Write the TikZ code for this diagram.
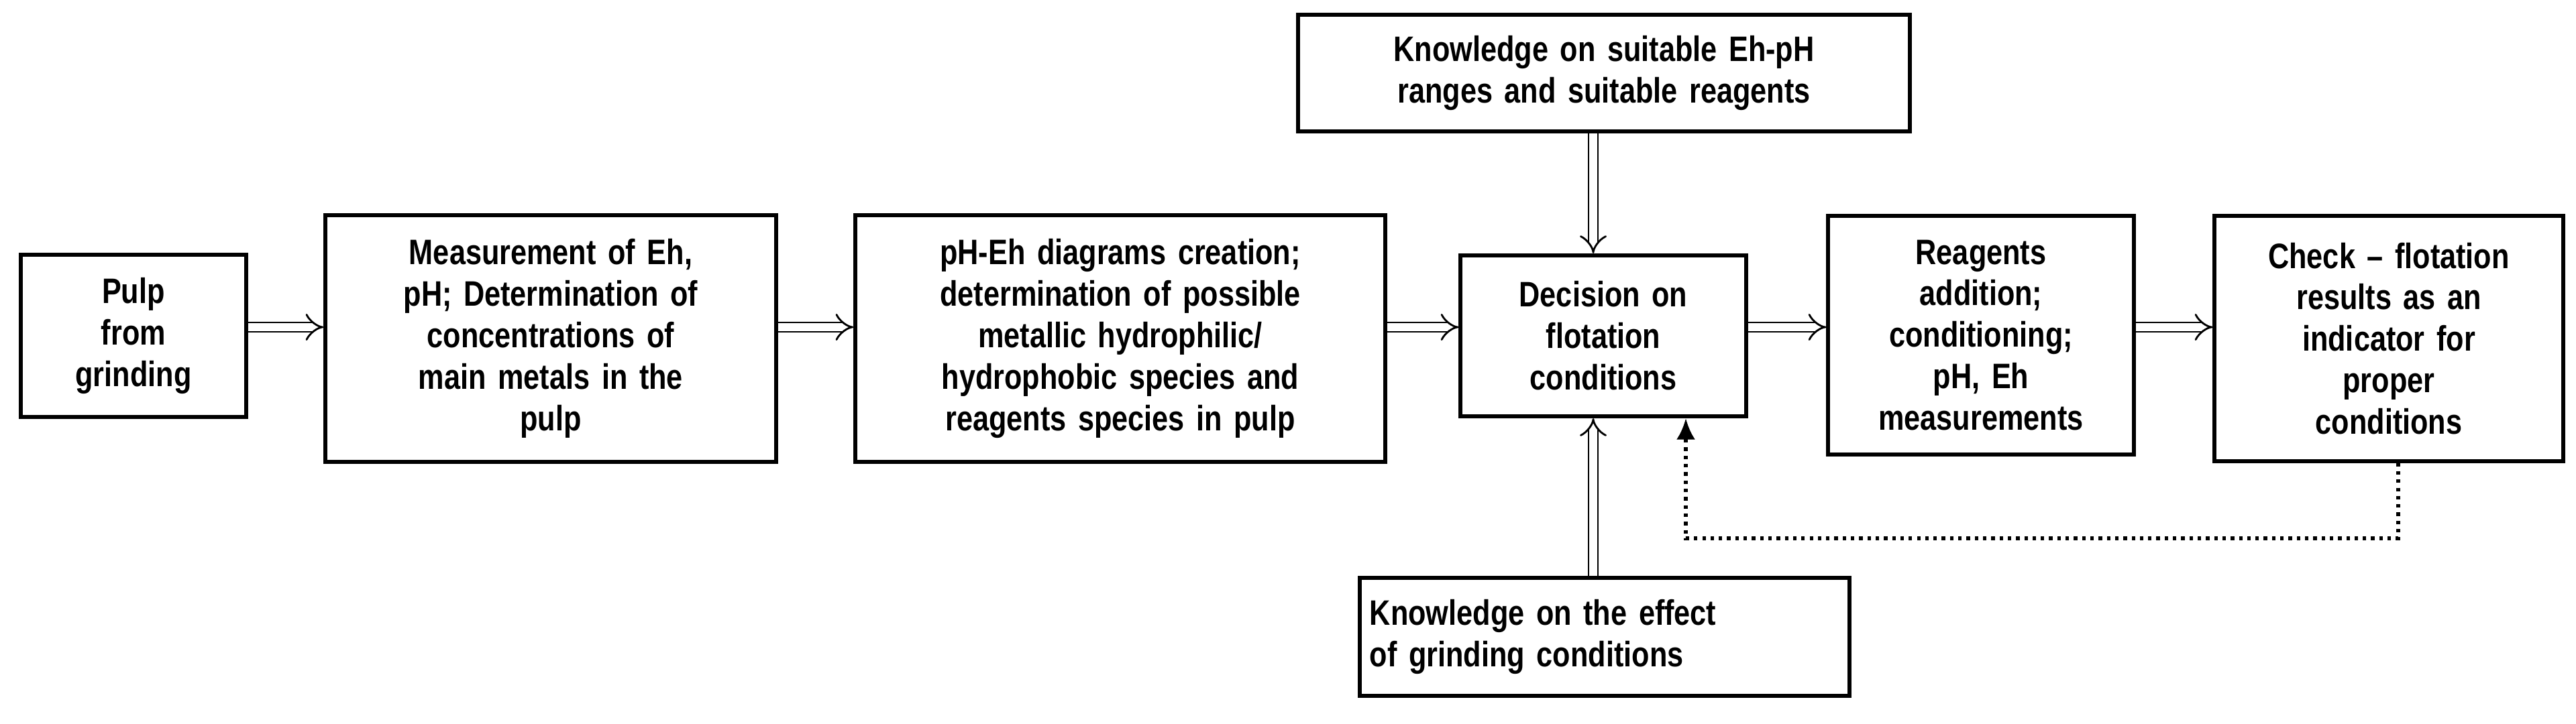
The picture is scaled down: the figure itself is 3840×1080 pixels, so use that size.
\documentclass[tikz,border=0pt]{standalone}
\usepackage{fontspec}
\setmainfont{Liberation Sans}[FakeStretch=0.82]
\usetikzlibrary{arrows.meta}
\begin{document}
\begin{tikzpicture}[x=0.01cm,y=-0.01cm,
  box/.style={draw,line width=1.7pt,align=center,font=\bfseries\fontsize{15}{17.6}\selectfont,inner sep=0pt},
  dbl/.style={double,double distance=3.2pt,line width=0.8pt,-{Implies[length=6pt]}},
  fb/.style={line width=1.5pt,dotted,-{Latex[length=9pt,width=8pt]}}]
\useasboundingbox (0,0) rectangle (3840,1080);
\node[box,minimum width=3.36cm,minimum height=2.41cm,text width=3.2cm] (pulp) at (199,501) {Pulp\\from\\grinding};
\node[box,minimum width=6.71cm,minimum height=3.67cm,text width=6.3cm] (meas) at (821,505) {Measurement of Eh,\\pH; Determination of\\concentrations of\\main metals in the\\pulp};
\node[box,minimum width=7.89cm,minimum height=3.67cm,text width=7.6cm] (diag) at (1670,505) {pH-Eh diagrams creation;\\determination of possible\\metallic hydrophilic/\\hydrophobic species and\\reagents species in pulp};
\node[box,minimum width=4.25cm,minimum height=2.40cm,text width=4.0cm] (dec) at (2390,501) {Decision on\\flotation\\conditions};
\node[box,minimum width=9.12cm,minimum height=1.74cm,text width=8.8cm] (top) at (2391,109) {Knowledge on suitable Eh-pH\\ranges and suitable reagents};
\node[box,minimum width=4.55cm,minimum height=3.56cm,text width=4.3cm] (reag) at (2953,500) {Reagents\\addition;\\conditioning;\\pH, Eh\\measurements};
\node[box,minimum width=5.19cm,minimum height=3.65cm,text width=5.0cm] (check) at (3561,505) {Check -- flotation\\results as an\\indicator for\\proper\\conditions};
\node[box,minimum width=7.30cm,minimum height=1.76cm,text width=7.0cm,align=left] (bot) at (2392,950) {Knowledge on the effect\\of grinding conditions};
\coordinate (y) at (0,488);
\draw[dbl] (pulp.east|-y) -- (meas.west|-y);
\draw[dbl] (meas.east|-y) -- (diag.west|-y);
\draw[dbl] (diag.east|-y) -- (dec.west|-y);
\draw[dbl] (dec.east|-y) -- (reag.west|-y);
\draw[dbl] (reag.east|-y) -- (check.west|-y);
\coordinate (vx) at (2375,0);
\draw[dbl] (top.south-|vx) -- (dec.north-|vx);
\draw[dbl] (bot.north-|vx) -- (dec.south-|vx);
\coordinate (c1) at (3575,803);
\coordinate (c2) at (2513,803);
\draw[fb] (check.south-|c1) -- (c1) -- (c2) -- (dec.south-|c2);
\end{tikzpicture}
\end{document}
